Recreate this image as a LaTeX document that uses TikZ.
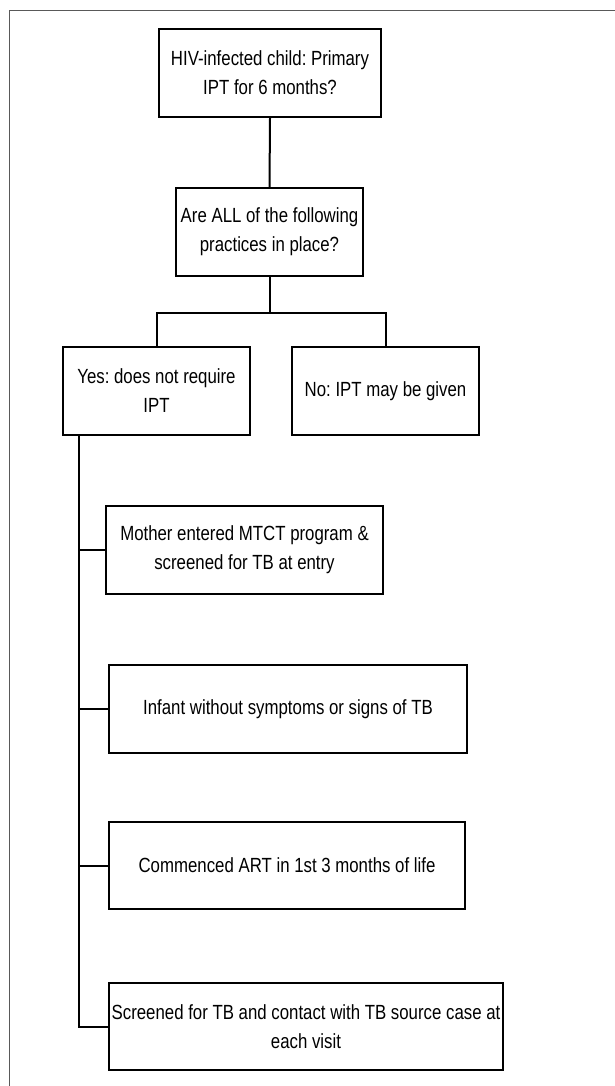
\documentclass[tikz,border=0pt]{standalone}
\usepackage{fontspec}
\usepackage{graphicx}
\setmainfont{Liberation Sans}
\usetikzlibrary{calc}
\newcommand\nrw[1]{\scalebox{0.82}[1]{#1}}
\begin{document}
\begin{tikzpicture}[x=1pt,y=-1pt,
  box/.style={draw=black,line width=2pt,rectangle,inner sep=0pt,align=center,
    font=\fontsize{20.5}{29}\selectfont\frenchspacing},
  conn/.style={draw=black,line width=2pt},
  frame/.style={draw=black!65,line width=1.2pt}]
\useasboundingbox (0,0) rectangle (615,1086);
\fill[white] (0,0) rectangle (615,1086);
\draw[frame] (9.5,1090) -- (9.5,10.5) -- (620,10.5);

\node[box,minimum width=222pt,minimum height=88pt] (q1) at (270,73)
  {\nrw{HIV-infected child: Primary}\\\nrw{IPT for 6 months?}};
\node[box,minimum width=187pt,minimum height=88pt] (q2) at (269.5,232)
  {\nrw{Are ALL of the following}\\\nrw{practices in place?}};
\node[box,minimum width=187pt,minimum height=88pt] (yes) at (156.5,391)
  {\nrw{Yes: does not require}\\\nrw{IPT}};
\node[box,minimum width=187pt,minimum height=88pt] (no) at (385.5,391)
  {\nrw{No: IPT may be given}};
\node[box,minimum width=277pt,minimum height=88pt] (c1) at (244.5,550)
  {\nrw{Mother entered MTCT program \&}\\\nrw{screened for TB at entry}};
\node[box,minimum width=358pt,minimum height=88pt] (c2) at (288,709)
  {\nrw{Infant without symptoms or signs of TB}};
\node[box,minimum width=356pt,minimum height=87pt] (c3) at (287,865.5)
  {\nrw{Commenced ART in 1st 3 months of life}};
\node[box,minimum width=394pt,minimum height=87pt] (c4) at (306,1026.5)
  {\nrw{Screened for TB and contact with TB source case at}\\\nrw{each visit}};

\coordinate (split) at ($(q2.south)+(0,36)$);
\coordinate (t0) at ($(yes.south west)+(17,0)$);

\draw[conn] (q1.south) -- (q2.north);
\draw[conn] (q2.south) -- (split);
\draw[conn] (yes.north) |- (split) -| (no.north);
\draw[conn] (t0) |- (c4.west);
\draw[conn] (t0 |- c1.west) -- (c1.west);
\draw[conn] (t0 |- c2.west) -- (c2.west);
\draw[conn] (t0 |- c3.west) -- (c3.west);
\end{tikzpicture}
\end{document}
